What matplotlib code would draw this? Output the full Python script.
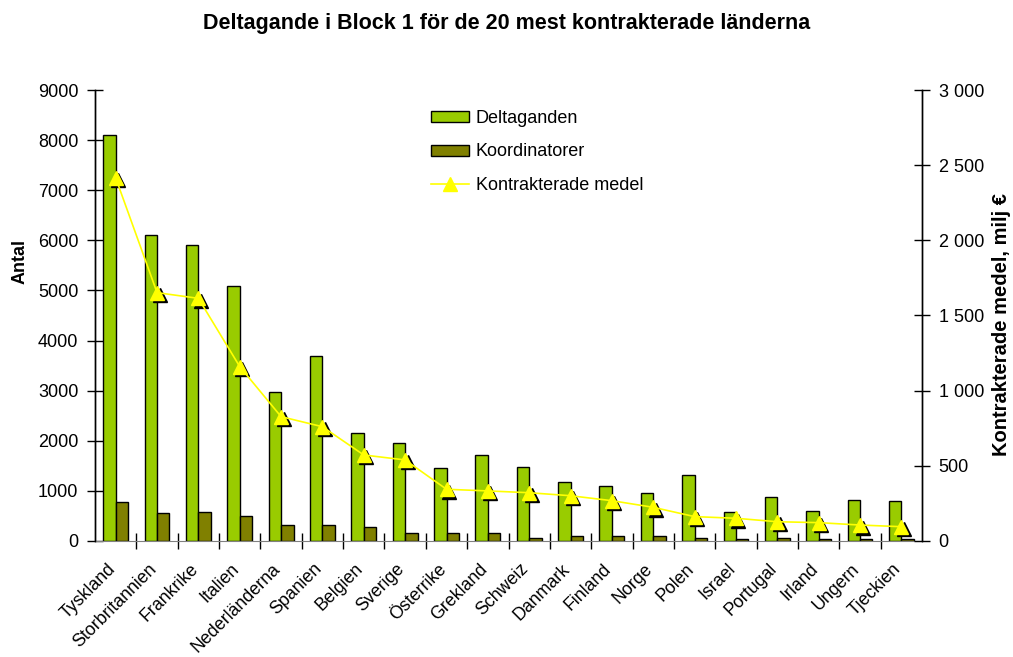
import numpy as np
import matplotlib
matplotlib.use("Agg")
import matplotlib.pyplot as plt
from matplotlib import transforms
from matplotlib.ticker import FuncFormatter

plt.rcParams['font.family'] = ['Liberation Sans', 'DejaVu Sans']

# data
countries = ['Tyskland', 'Storbritannien', 'Frankrike', 'Italien', 'Nederländerna',
             'Spanien', 'Belgien', 'Sverige', 'Österrike', 'Grekland', 'Schweiz',
             'Danmark', 'Finland', 'Norge', 'Polen', 'Israel', 'Portugal', 'Irland',
             'Ungern', 'Tjeckien']
deltaganden = [8100, 6100, 5900, 5080, 2980, 3700, 2150, 1960, 1450, 1720,
               1480, 1180, 1090, 960, 1320, 580, 880, 600, 820, 790]
koordinatorer = [780, 550, 570, 490, 310, 310, 270, 150, 150, 150,
                 60, 90, 90, 90, 60, 30, 60, 30, 30, 30]
medel = [2415, 1652, 1614, 1160, 827, 760, 572, 539, 344, 333,
         321, 301, 268, 224, 162, 151, 128, 122, 106, 95]

col_green = '#99CC00'
col_olive = '#808000'
col_line = '#FFFF00'
txt_size = 13

fig = plt.figure(figsize=(10.13, 6.57), dpi=100)
ax = fig.add_axes([0.0938, 0.1766, 0.9102 - 0.0938, 0.863 - 0.1766])
ax2 = ax.twinx()

x = np.arange(len(countries))
w = 0.3
ax.bar(x - w / 2, deltaganden, w, color=col_green, edgecolor='black', linewidth=1,
       label='Deltaganden', zorder=2)
ax.bar(x + w / 2, koordinatorer, w, color=col_olive, edgecolor='black', linewidth=1,
       label='Koordinatorer', zorder=2)

# black shadow under the triangles
shadow = transforms.offset_copy(ax2.transData, fig=fig, x=2.5, y=-2.5, units='dots')
ax2.plot(x, medel, linestyle='none', marker='^', markersize=9.5, color='black',
         transform=shadow, zorder=2)
ax2.plot(x, medel, color=col_line, linewidth=1.2, marker='^', markersize=9.5,
         markerfacecolor=col_line, markeredgecolor=col_line,
         label='Kontrakterade medel', zorder=3)

ax.set_xlim(-0.5, len(countries) - 0.5)
ax.set_ylim(0, 9000)
ax2.set_ylim(0, 3000)
ax.set_yticks(np.arange(0, 9001, 1000))
ax2.set_yticks(np.arange(0, 3001, 500))
ax2.yaxis.set_major_formatter(FuncFormatter(lambda v, p: f"{int(v):,}".replace(',', ' ')))

ax.set_xticks(x)
ax.set_xticklabels(countries, rotation=45, ha='right', rotation_mode='anchor',
                   fontsize=12.8)
ax.tick_params(axis='x', length=0, pad=14)
shift = transforms.ScaledTranslation(-0.09, 0, fig.dpi_scale_trans)
for lab in ax.get_xticklabels():
    lab.set_transform(lab.get_transform() + shift)
ax.set_xticks(np.arange(0.5, len(countries) - 1, 1), minor=True)
ax.tick_params(axis='x', which='minor', direction='inout', length=12, width=1)
ax.tick_params(axis='y', direction='inout', length=12, width=1, labelsize=txt_size, pad=6)
ax2.tick_params(axis='y', direction='inout', length=12, width=1, labelsize=txt_size, pad=6)

for a in (ax, ax2):
    a.spines['top'].set_visible(False)
    a.spines['left'].set_linewidth(1)
    a.spines['right'].set_linewidth(1)
ax.spines['bottom'].set_color('#808080')
ax2.spines['bottom'].set_visible(False)

ax.set_ylabel('Antal', fontsize=13, fontweight='bold')
ax.yaxis.set_label_coords(-0.080, 0.619)
ax2.set_ylabel('Kontrakterade medel, milj €', fontsize=14.5, fontweight='bold')
ax2.yaxis.set_label_coords(1.085, 0.479)
fig.suptitle('Deltagande i Block 1 för de 20 mest kontrakterade länderna',
             fontsize=15.5, fontweight='bold', y=0.98)

h1, l1 = ax.get_legend_handles_labels()
h2, l2 = ax2.get_legend_handles_labels()
ax2.legend(h1 + h2, l1 + l2, loc='upper left', bbox_to_anchor=(0.409, 0.857),
           bbox_transform=fig.transFigure, frameon=False, fontsize=txt_size,
           handlelength=2.15, handleheight=0.55, labelspacing=0.9, handletextpad=0.35)

ax.set_zorder(1)
ax2.set_zorder(2)
ax.patch.set_visible(False)

plt.savefig("out.png", dpi=100)
